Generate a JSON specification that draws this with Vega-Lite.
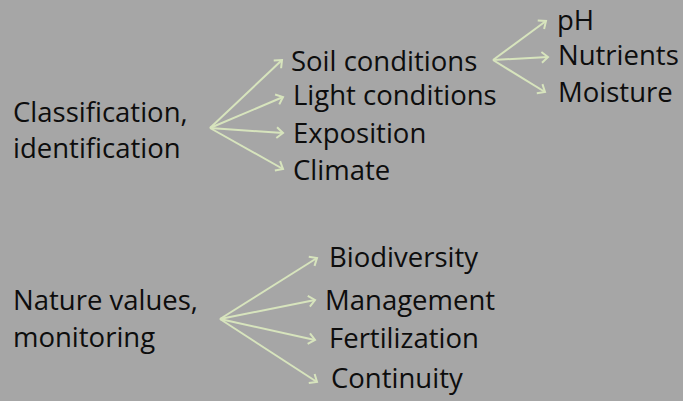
{
  "$schema": "https://vega.github.io/schema/vega-lite/v6.json",
  "width": 683,
  "height": 401,
  "autosize": {"type": "fit", "contains": "padding"},
  "padding": 0,
  "background": "#a6a6a6",
  "config": {"view": {"stroke": null}},
  "datasets": {
    "arrows": [
      {"x": 210, "y": 128, "x2": 282, "y2": 60},
      {"x": 210, "y": 128, "x2": 283, "y2": 97},
      {"x": 210, "y": 128, "x2": 283, "y2": 133},
      {"x": 210, "y": 128, "x2": 283, "y2": 169},
      {"x": 493, "y": 60, "x2": 546, "y2": 21},
      {"x": 493, "y": 60, "x2": 548, "y2": 57},
      {"x": 493, "y": 60, "x2": 545, "y2": 92},
      {"x": 220, "y": 319, "x2": 317, "y2": 258},
      {"x": 220, "y": 319, "x2": 315, "y2": 300},
      {"x": 220, "y": 319, "x2": 315, "y2": 340},
      {"x": 220, "y": 319, "x2": 317, "y2": 382}
    ],
    "labels": [
      {"label": "Classification,", "x": 13, "y": 122},
      {"label": "identification", "x": 13, "y": 158},
      {"label": "Soil conditions", "x": 291, "y": 71},
      {"label": "Light conditions", "x": 293, "y": 105},
      {"label": "Exposition", "x": 293, "y": 143},
      {"label": "Climate", "x": 293, "y": 180},
      {"label": "pH", "x": 557, "y": 30},
      {"label": "Nutrients", "x": 558, "y": 65},
      {"label": "Moisture", "x": 558, "y": 102},
      {"label": "Nature values,", "x": 13, "y": 310},
      {"label": "monitoring", "x": 13, "y": 347},
      {"label": "Biodiversity", "x": 329, "y": 267},
      {"label": "Management", "x": 325, "y": 310},
      {"label": "Fertilization", "x": 329, "y": 348},
      {"label": "Continuity", "x": 331, "y": 388}
    ]
  },
  "layer": [
    {
      "data": {"name": "arrows"},
      "mark": {"type": "rule", "color": "#d7e4bd", "strokeWidth": 2},
      "encoding": {
        "x": {"field": "x", "type": "quantitative", "scale": {"domain": [0, 683], "nice": false, "zero": false}, "axis": null},
        "y": {"field": "y", "type": "quantitative", "scale": {"domain": [0, 401], "nice": false, "zero": false, "reverse": true}, "axis": null},
        "x2": {"field": "x2"},
        "y2": {"field": "y2"}
      }
    },
    {
      "data": {"name": "arrows"},
      "transform": [{"calculate": "atan2(datum.y2 - datum.y, datum.x2 - datum.x) * 180 / PI", "as": "angle"}],
      "mark": {"type": "point", "shape": "M-1,-0.85L0,0L-1,0.85", "filled": false, "stroke": "#d7e4bd", "strokeWidth": 2, "size": 160, "opacity": 1},
      "encoding": {
        "x": {"field": "x2", "type": "quantitative"},
        "y": {"field": "y2", "type": "quantitative"},
        "angle": {"field": "angle", "type": "quantitative", "scale": null}
      }
    },
    {
      "data": {"name": "labels"},
      "mark": {"type": "text", "align": "left", "baseline": "alphabetic", "font": "Open Sans", "fontSize": 27.5, "color": "#0d0d0d"},
      "encoding": {
        "x": {"field": "x", "type": "quantitative"},
        "y": {"field": "y", "type": "quantitative"},
        "text": {"field": "label"}
      }
    }
  ]
}
